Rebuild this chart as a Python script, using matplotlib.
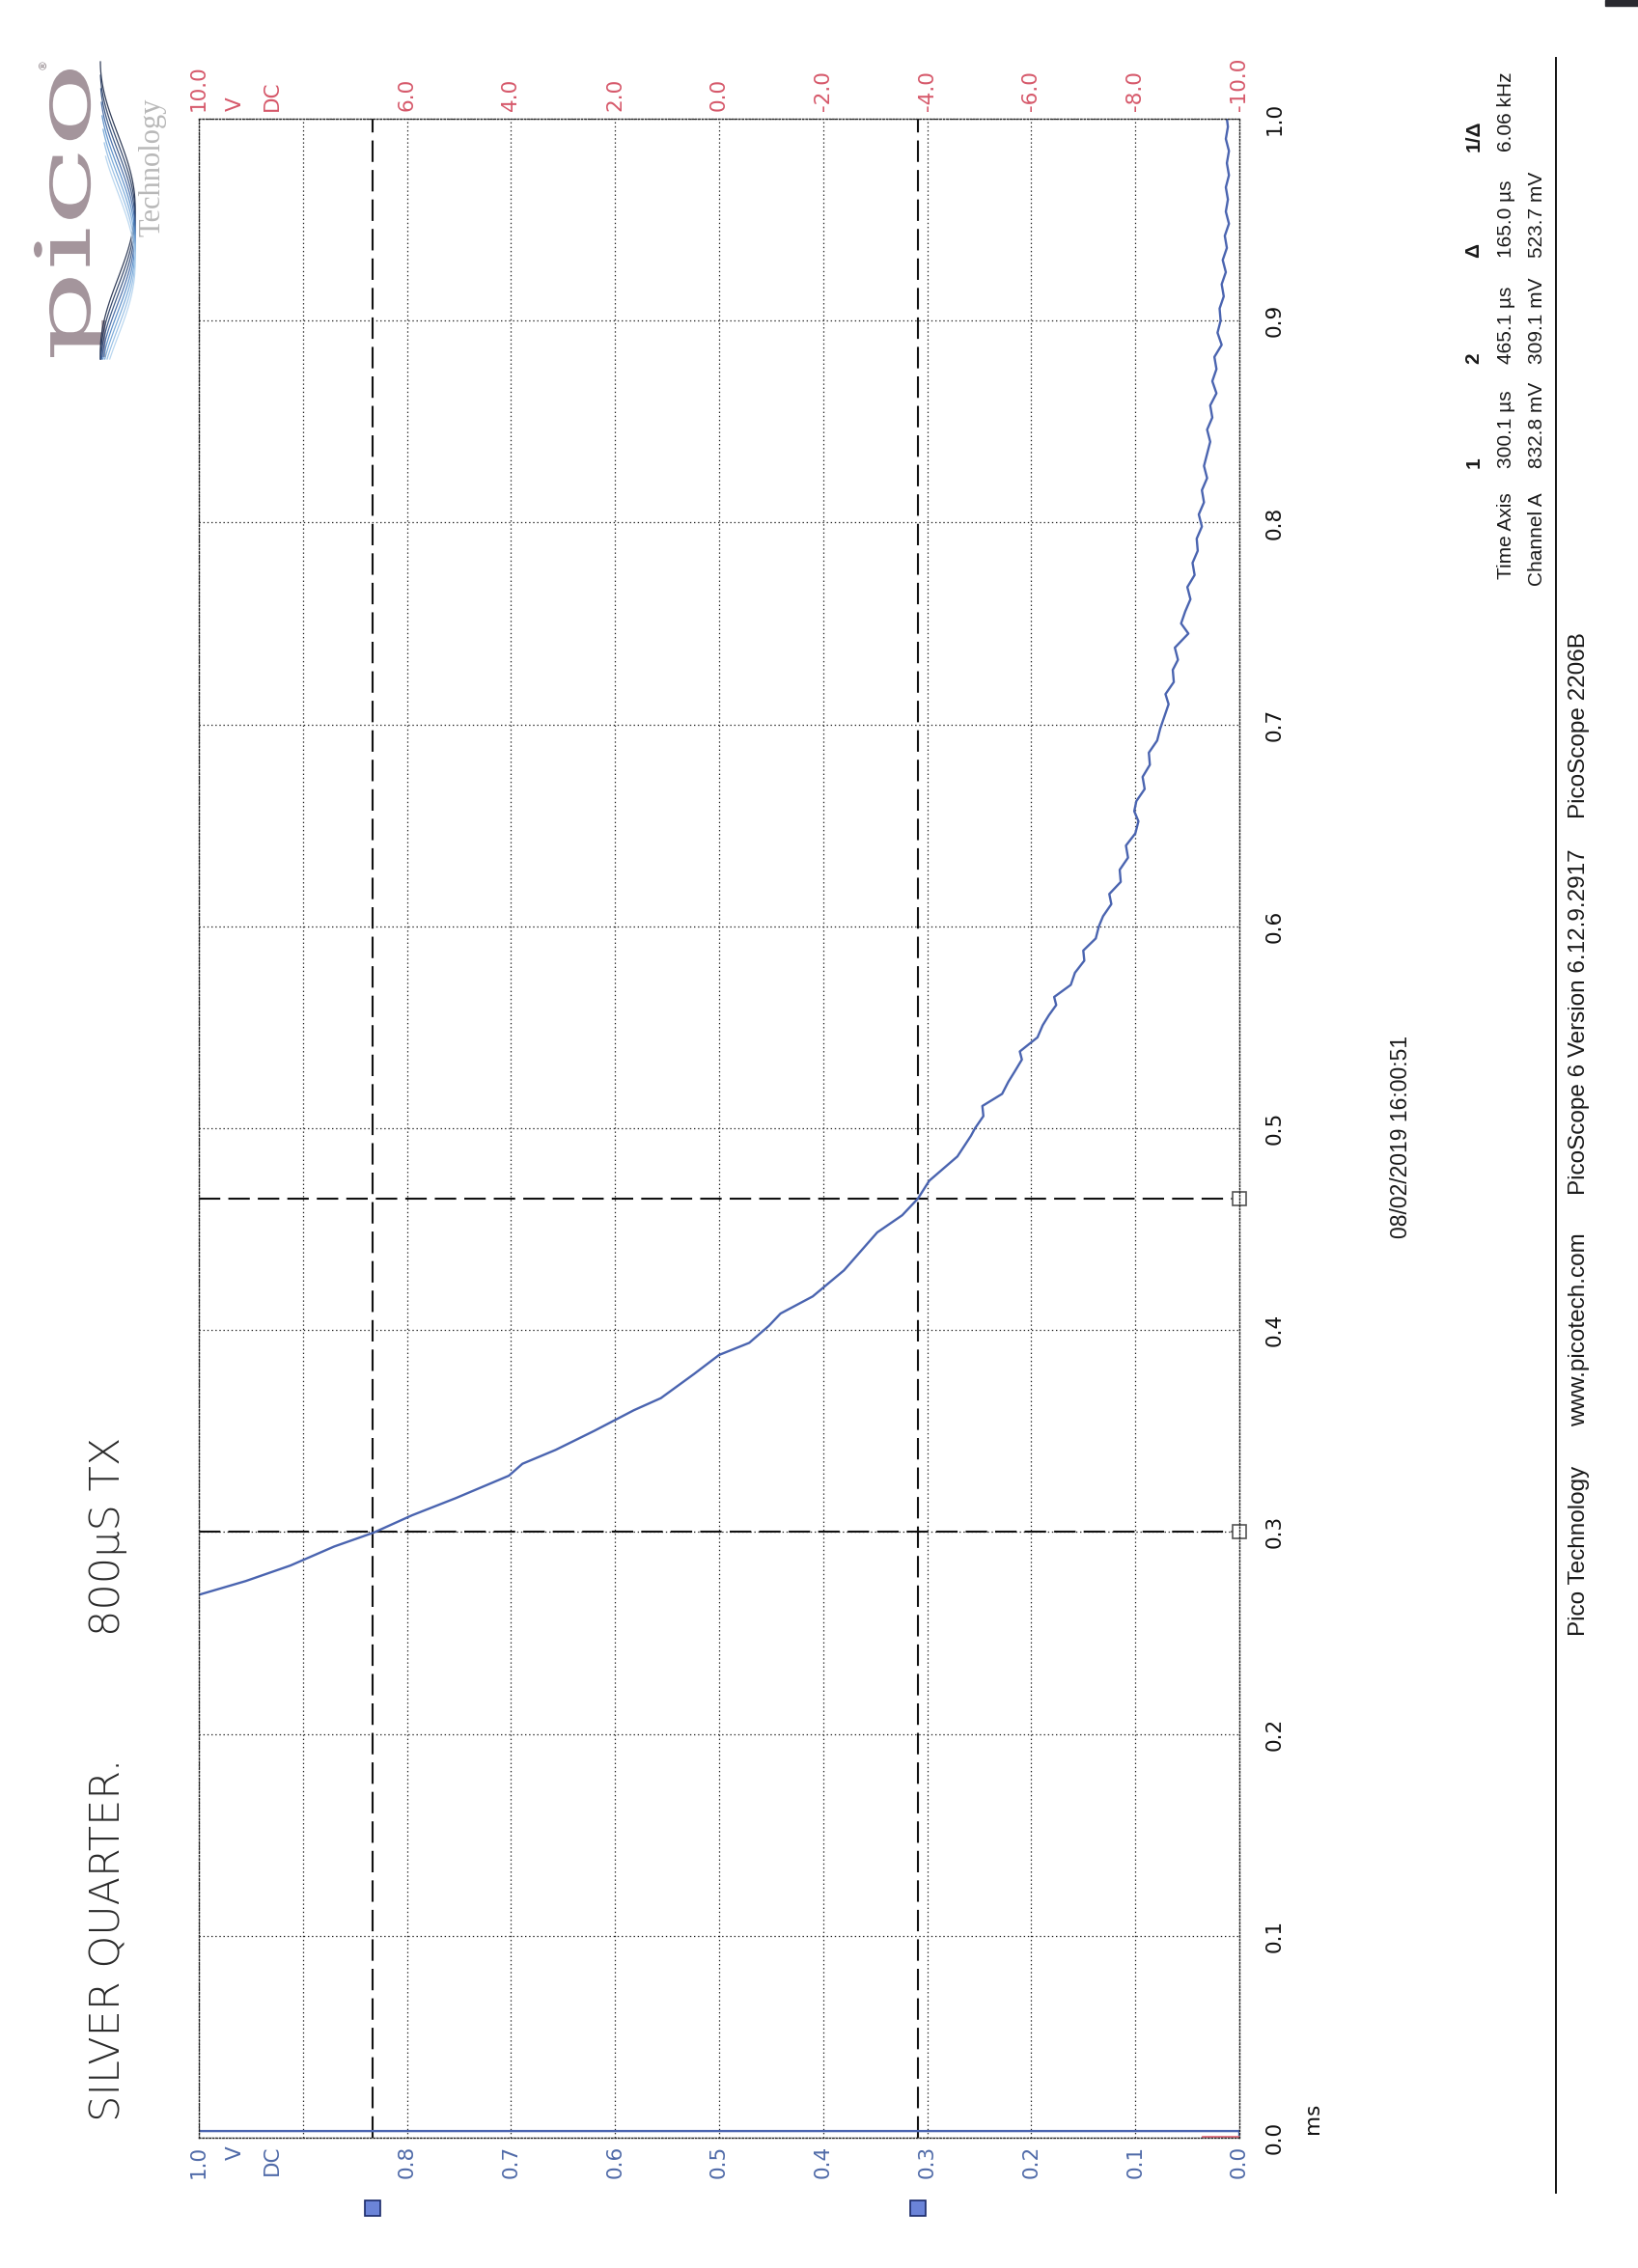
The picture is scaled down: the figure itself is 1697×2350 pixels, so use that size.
import numpy as np
import matplotlib
matplotlib.use("Agg")
import matplotlib.pyplot as plt
from matplotlib.lines import Line2D
from matplotlib.patches import PathPatch, Rectangle
from matplotlib.textpath import TextPath
from matplotlib.font_manager import FontProperties
from matplotlib.transforms import Affine2D, blended_transform_factory

plt.rcParams['lines.scale_dashes'] = False

# --- data (time in ms, channel A in V) ---
trace_t = [0.0, 0.0033, 0.0033, 0.262,
           0.2689, 0.2757, 0.2834, 0.2928, 0.2997, 0.3083, 0.3168, 0.3279, 0.3338,
           0.3407, 0.3501, 0.3603, 0.3663, 0.3783, 0.3877, 0.3937, 0.4022, 0.4082,
           0.4167, 0.4296, 0.4484, 0.4569, 0.4651, 0.4740, 0.4860, 0.4962,
           0.500, 0.506, 0.511, 0.517, 0.523, 0.528, 0.534, 0.538, 0.545, 0.551,
           0.556, 0.561, 0.565, 0.571, 0.577, 0.583, 0.588, 0.594, 0.600, 0.605,
           0.611, 0.616, 0.622, 0.628, 0.634, 0.640, 0.646, 0.652, 0.657, 0.662,
           0.668, 0.674, 0.680, 0.686, 0.692, 0.698, 0.704, 0.710, 0.715, 0.721,
           0.727, 0.732, 0.738, 0.745, 0.750, 0.756, 0.762, 0.768, 0.774, 0.780,
           0.786, 0.792, 0.798, 0.804, 0.810, 0.816, 0.822, 0.828, 0.834, 0.840,
           0.846, 0.852, 0.858, 0.864, 0.870, 0.876, 0.882, 0.888, 0.894, 0.900,
           0.906, 0.912, 0.918, 0.924, 0.930, 0.936, 0.942, 0.948, 0.954, 0.960,
           0.966, 0.972, 0.978, 0.984, 0.990, 0.996, 1.000]
trace_v = [0.0, 0.0, 1.35, 1.03,
           1.000, 0.955, 0.912, 0.870, 0.832, 0.795, 0.753, 0.702, 0.689,
           0.657, 0.620, 0.582, 0.556, 0.524, 0.500, 0.471, 0.452, 0.441,
           0.410, 0.380, 0.348, 0.324, 0.309, 0.298, 0.271, 0.258,
           0.254, 0.246, 0.247, 0.228, 0.222, 0.216, 0.209, 0.211, 0.194, 0.189,
           0.183, 0.176, 0.178, 0.162, 0.158, 0.149, 0.150, 0.138, 0.135, 0.131,
           0.123, 0.125, 0.114, 0.115, 0.107, 0.109, 0.100, 0.097, 0.101, 0.099,
           0.091, 0.093, 0.086, 0.087, 0.079, 0.076, 0.072, 0.068, 0.071, 0.063,
           0.064, 0.059, 0.062, 0.049, 0.056, 0.052, 0.047, 0.050, 0.043, 0.045,
           0.040, 0.041, 0.036, 0.039, 0.034, 0.036, 0.031, 0.034, 0.031, 0.028,
           0.031, 0.026, 0.028, 0.022, 0.026, 0.022, 0.024, 0.017, 0.021, 0.018,
           0.019, 0.015, 0.017, 0.013, 0.016, 0.012, 0.014, 0.010, 0.013, 0.011,
           0.013, 0.010, 0.012, 0.010, 0.013, 0.011, 0.012]

marker_t = [0.0005, 0.0005]
marker_v = [0.0, 0.035]

cursor_t = [0.3001, 0.4651]        # ms
cursor_v = [0.8328, 0.3091]        # V

volt_ticks = [1.0, 0.8, 0.7, 0.6, 0.5, 0.4, 0.3, 0.2, 0.1, 0.0]
chb_ticks = [10.0, 6.0, 4.0, 2.0, 0.0, -2.0, -4.0, -6.0, -8.0, -10.0]
time_ticks = [0.0, 0.1, 0.2, 0.3, 0.4, 0.5, 0.6, 0.7, 0.8, 0.9, 1.0]

table_cols = ["1", "2", "\u0394", "1/\u0394"]
table_rows = ["Time Axis", "Channel A"]
table_vals = [["300.1 \u00b5s", "465.1 \u00b5s", "165.0 \u00b5s", "6.06 kHz"],
              ["832.8 mV", "309.1 mV", "523.7 mV", ""]]

footer = ["Pico Technology", "www.picotech.com",
          "PicoScope 6 Version 6.12.9.2917", "PicoScope 2206B"]

W, H = 1697, 2350


def fx(px):
    return px / W


def fy(py):
    return 1 - py / H


fig = plt.figure(figsize=(W / 100, H / 100), dpi=100)
fig.patch.set_facecolor('white')

ax = fig.add_axes([fx(206), fy(2215), fx(1284) - fx(206), fy(123) - fy(2215)])
ax.set_xlim(1.0, 0.0)
ax.set_ylim(0.0, 1.0)
ax.set_xticks(np.linspace(0, 1, 11))
ax.set_yticks(np.linspace(0, 1, 11))
ax.tick_params(length=0, labelbottom=False, labelleft=False)
ax.grid(True, ls=(0, (1, 2)), color='#222222', lw=0.9)
for s in ax.spines.values():
    s.set_linestyle((0, (1, 1.5)))
    s.set_linewidth(1.0)
    s.set_color('#222222')

# cursors
for v in cursor_v:
    ax.axvline(v, color='#111111', lw=1.5, dashes=(16, 6))
for t in cursor_t:
    ax.axhline(t, color='#111111', lw=1.5, dashes=(16, 6))

ax.plot(trace_v, trace_t, color='#4a64b0', lw=1.7, solid_joinstyle='round')
ax.plot(marker_v, marker_t, color='#e07080', lw=2.0)

# cursor handles
trb = blended_transform_factory(ax.transData, fig.transFigure)
ax.plot(cursor_v, [fy(2288)] * 2, 's', ms=11.5, mfc='#6b84d8', mec='#1a2a6a',
        mew=1.2, transform=trb, clip_on=False)
ax.plot([0.0, 0.0], cursor_t, 's', ms=10, mfc='white', mec='#555555',
        mew=1.2, clip_on=False)

# channel A labels (bottom, blue) and channel B labels (top, red)
blue = '#4f6aa8'
red = '#d6586a'
tick_font = dict(family='DejaVu Sans', fontsize=15.5)
for v in volt_ticks:
    ax.text(v, fy(2223), f"{v:.1f}", transform=trb, rotation=90,
            rotation_mode='anchor', ha='right', va='center', color=blue, **tick_font)
for v in chb_ticks:
    ax.text((v + 10) / 20, fy(115), f"{v:.1f}", transform=trb, rotation=90,
            rotation_mode='anchor', ha='left', va='center', color=red, **tick_font)
for lab, pos in [("V", 0.965), ("DC", 0.93)]:
    ax.text(pos, fy(2223), lab, transform=trb, rotation=90,
            rotation_mode='anchor', ha='right', va='center', color=blue, **tick_font)
    ax.text(pos, fy(115), lab, transform=trb, rotation=90,
            rotation_mode='anchor', ha='left', va='center', color=red, **tick_font)

# time axis labels (right, black)
trt = blended_transform_factory(fig.transFigure, ax.transData)
for t in time_ticks:
    ax.text(fx(1321), t, f"{t:.1f}", transform=trt, rotation=90,
            rotation_mode='anchor', ha='center', va='center', color='#111111', **tick_font)
ax.text(fx(1360), 0.002, "ms", transform=trt, rotation=90, rotation_mode='anchor',
        ha='left', va='center', color='#111111', **tick_font)

# cursor table
col_start = [485, 377, 267, 157]
row_x = [1560, 1593]
tfont = dict(family='Liberation Sans', fontsize=15, color='#1a1a1a')
for c, y0 in zip(table_cols, col_start):
    fig.text(fx(1527), fy(y0), c, rotation=90, rotation_mode='anchor',
             ha='left', va='center', fontweight='bold', **tfont)
for r, x0, vals in zip(table_rows, row_x, table_vals):
    fig.text(fx(x0), fy(510), r, rotation=90, rotation_mode='anchor',
             ha='right', va='center', **tfont)
    for val, y0 in zip(vals, col_start):
        fig.text(fx(x0), fy(y0), val, rotation=90, rotation_mode='anchor',
                 ha='left', va='center', **tfont)

# footer
fig.add_artist(Line2D([fx(1612), fx(1612)], [fy(60), fy(2272)], color='#111111', lw=1.4))
for txt, y0 in zip(footer, [1695, 1478, 1238, 848]):
    fig.text(fx(1636), fy(y0), txt, rotation=90, rotation_mode='anchor',
             ha='left', va='center', family='Liberation Sans', fontsize=17.5, color='#1a1a1a')
fig.text(fx(1452), fy(1283), "08/02/2019 16:00:51", rotation=90, rotation_mode='anchor',
         ha='left', va='center', family='Liberation Sans', fontsize=16.5, color='#1a1a1a')

# handwritten note
fig.text(fx(112), fy(2198), "SILVER QUARTER.", rotation=90,
         rotation_mode='anchor', ha='left', va='center', family='DejaVu Sans',
         fontweight='light', fontsize=31, color='#2a2a2a')
fig.text(fx(112), fy(1695), "800\u00b5S TX", rotation=90, rotation_mode='anchor',
         ha='left', va='center', family='DejaVu Sans', fontweight='light',
         fontsize=31, color='#2a2a2a')

# pico logo
pix = Affine2D().scale(1 / W, 1 / H) + fig.transFigure
tp = TextPath((0, 0), "pico", size=100, prop=FontProperties(family='DejaVu Serif'))
bb = tp.get_extents()
logo_tr = (Affine2D().translate(-bb.x0, 0).scale(298 / bb.width, 41 / 52.0)
           .rotate_deg(90).translate(93, H - 370))
fig.add_artist(PathPatch(logo_tr.transform_path(tp), transform=pix,
                         facecolor='#a4959c', edgecolor='none'))
fig.text(fx(45), fy(66), "\u00ae", rotation=90, ha='center', va='center',
         fontsize=8, color='#8a7f84')
fig.text(fx(158), fy(245), "Technology", rotation=90, rotation_mode='anchor',
         ha='left', va='center', family='Liberation Serif', fontsize=22, color='#b8b8b8')

# logo swooshes
wave_cols = ['#1d2a48', '#24385e', '#2c4a7a', '#3a62a0', '#4f86c4',
             '#6fa3d6', '#92bce4', '#b4d3ee']
for k, col in enumerate(wave_cols):
    yy = np.linspace(64 + 14 * k, 372, 120)
    xx = 122 + 18 * np.sin(2 * np.pi * (yy - 64) / 300 - np.pi / 2 - 0.18 * k)
    fig.add_artist(Line2D(xx, H - yy, transform=pix, color=col, lw=0.9, alpha=0.9))

# scan corner artefact
fig.add_artist(Rectangle((1663, H - 6), 34, 6, transform=pix, color='#2a2a30'))

fig.savefig("out.png", dpi=100)
